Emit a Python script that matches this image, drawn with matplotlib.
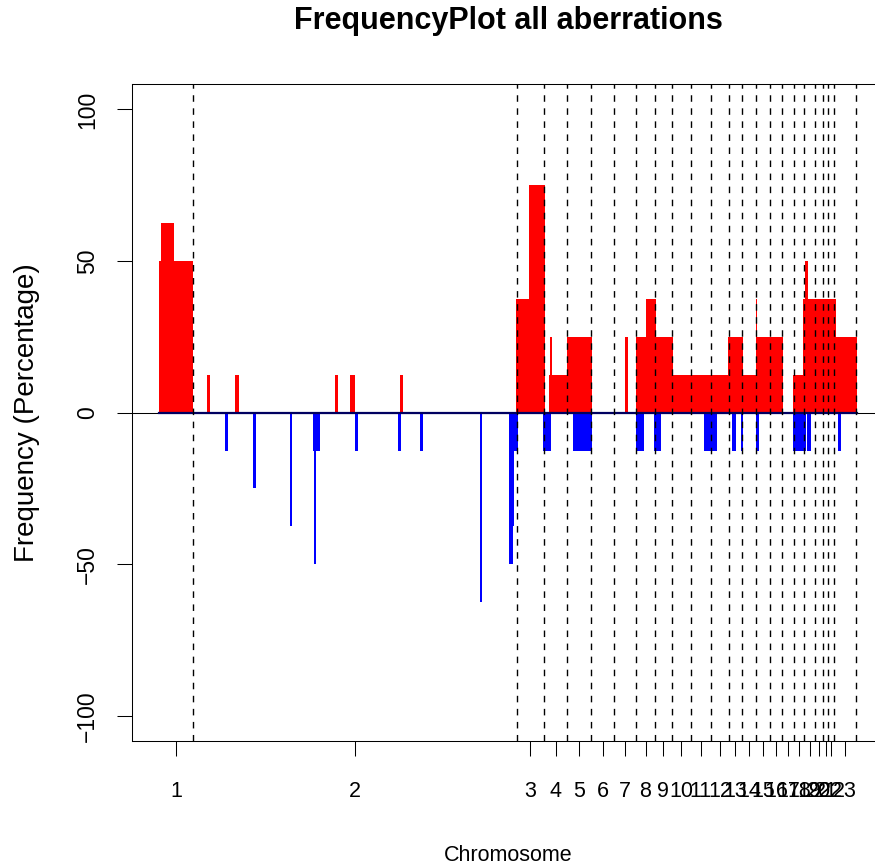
# Frequency plot of gains/losses per chromosome
import matplotlib
matplotlib.use("Agg")
import matplotlib.pyplot as plt
import numpy as np

plt.rcParams['font.family'] = ['Liberation Sans', 'DejaVu Sans']
plt.rcParams['lines.scale_dashes'] = False

# genome position (cumulative index units) where each chromosome ends
chrom_start = 0.0
chrom_ends = [34, 357.7, 385, 408.3, 431.7, 455.3, 477.3, 495.7, 513, 531.7,
              552, 569.7, 583, 597.3, 610.7, 623, 635, 645, 656, 664.3,
              669.3, 675.3, 697]
chrom_labels = [str(i) for i in range(1, 24)]

# gains: segment start, segment end, frequency (%)
gain_start = [0.3, 1.7, 15.3, 48.3, 76.3, 176.3, 191, 241,
              357, 369.7, 390, 391, 407.7, 466,
              476.7, 487, 496.7, 513.7, 569.3, 583.7, 597.3, 597.3,
              634.3, 644.3, 646.3, 676.7]
gain_end = [1.7, 15.3, 34, 50.7, 80.3, 179, 195.7, 244.3,
            369.7, 386, 407.7, 393.3, 432.7, 468.7,
            487, 496.7, 513.7, 569.3, 583.7, 597.3, 623.7, 598.3,
            644.3, 676.7, 648.7, 697.7]
gain_freq = [50, 62.5, 50, 12.5, 12.5, 12.5, 12.5, 12.5,
             37.5, 75, 12.5, 25, 25, 25,
             25, 37.5, 25, 12.5, 25, 12.5, 25, 37.5,
             12.5, 37.5, 50, 25]

# losses: segment start, segment end, frequency (%)
loss_start = [66.3, 94.3, 131.3, 154.3, 155.3, 196.3, 239.3, 261, 321,
              350.3, 350.3, 350.3, 384.3, 414.3, 476.7, 495, 545.3,
              573, 582, 597, 634.3, 648.3, 679.3]
loss_end = [68.7, 96.7, 133.3, 161, 157, 198.7, 241.7, 263.7, 323,
            359.3, 355.3, 353.7, 392, 432.7, 485, 502, 558,
            577, 584.3, 599.7, 646.7, 652, 682]
loss_freq = [-12.5, -25, -37.5, -12.5, -50, -12.5, -12.5, -12.5, -62.5,
             -12.5, -37.5, -50, -12.5, -12.5, -12.5, -12.5, -12.5,
             -12.5, -12.5, -12.5, -12.5, -12.5, -12.5]


def frequencyPlot():
    fig = plt.figure(figsize=(8.75, 8.67), dpi=100)
    ax = fig.add_axes([132 / 875, 126 / 867, 752 / 875, 657 / 867])

    gs = np.array(gain_start)
    ge = np.array(gain_end)
    ax.bar(gs, gain_freq, width=ge - gs, align='edge', color='#FF0000',
           linewidth=0, zorder=2)
    ls = np.array(loss_start)
    le = np.array(loss_end)
    ax.bar(ls, loss_freq, width=le - ls, align='edge', color='#0000FF',
           linewidth=0, zorder=2)

    # zero line (gain and loss tracks overlap at 0)
    ax.axhline(0, color='black', linewidth=0.75, zorder=3)
    ax.plot([min(gain_start), max(gain_end)], [0, 0], color='#000060',
            linewidth=1.6, zorder=3)

    # chromosome boundaries
    for e in chrom_ends:
        ax.axvline(e, color='black', linewidth=1.0, dashes=(4.7, 4.7), zorder=4)

    bounds = [chrom_start] + chrom_ends
    mids = [(bounds[i] + bounds[i + 1]) / 2 for i in range(len(chrom_ends))]

    ax.set_xlim(-27, 725)
    ax.set_ylim(-108.3, 108.4)
    ax.set_xticks(mids)
    ax.set_xticklabels(chrom_labels, fontsize=15.5)
    ax.set_yticks([-100, -50, 0, 50, 100])
    ax.set_yticklabels(['\u2212100', '\u221250', '0', '50', '100'], fontsize=16.5,
                       rotation=90, va='center')
    ax.tick_params(axis='x', length=10.5, width=0.75, pad=18)
    ax.tick_params(axis='y', length=10.5, width=0.75, pad=13)
    for sp in ax.spines.values():
        sp.set_linewidth(0.75)

    ax.set_xlabel("Chromosome", fontsize=15.5, labelpad=31)
    ax.set_ylabel("Frequency (Percentage)", fontsize=20, labelpad=26)
    fig.suptitle("FrequencyPlot all aberrations", fontsize=22, fontweight='bold',
                 y=1 - 21 / 867, va='center', x=508 / 875)

    fig.savefig("out.png", dpi=100)


frequencyPlot()
